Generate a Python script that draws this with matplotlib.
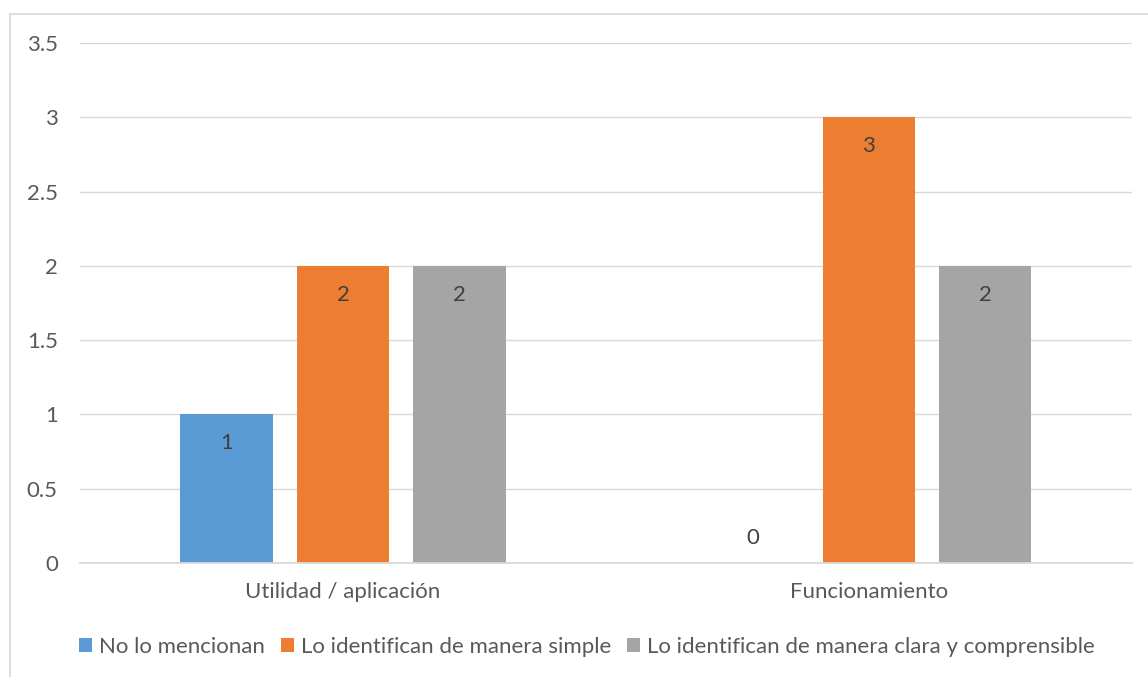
import matplotlib
matplotlib.use("Agg")
import matplotlib.pyplot as plt
from matplotlib.lines import Line2D
import numpy as np

categories = ["Utilidad / aplicación", "Funcionamiento"]
series_names = [
    "No lo mencionan",
    "Lo identifican de manera simple",
    "Lo identifican de manera clara y comprensible",
]
values = [
    [1, 0],
    [2, 3],
    [2, 2],
]
colors = ["#5B9BD5", "#ED7D31", "#A5A5A5"]
yticks = [0, 0.5, 1, 1.5, 2, 2.5, 3, 3.5]

text_color = "#595959"
grid_color = "#D9D9D9"
fs = 16
plt.rcParams["font.family"] = ["Lato", "DejaVu Sans"]

fig = plt.figure(figsize=(11.48, 6.77), dpi=100)
ax = fig.add_axes([0.0697, 0.1684, 0.9163, 0.7681])

x = np.arange(len(categories))
step = 0.2215
width = 0.175
for i, (name, vals, c) in enumerate(zip(series_names, values, colors)):
    xs = x + (i - 1) * step
    ax.bar(xs, vals, width=width, color=c, label=name, zorder=3)
    for xi, v in zip(xs, vals):
        off = -29 if v > 0 else 25
        ax.annotate(f"{v:g}", (xi, v), xytext=(0, off), textcoords="offset pixels",
                    ha="center", va="center", fontsize=fs, color="#404040", zorder=4)

ax.set_xlim(-0.5, 1.5)
ax.set_ylim(0, 3.5)
ax.set_yticks(yticks)
ax.set_yticklabels([f"{t:g}" for t in yticks])
ax.set_xticks(x)
ax.set_xticklabels(categories)
ax.tick_params(axis="y", length=0, pad=16, labelsize=fs, labelcolor=text_color)
ax.tick_params(axis="x", length=0, pad=14, labelsize=fs, labelcolor=text_color)
ax.grid(axis="y", color=grid_color, linewidth=1.0, zorder=0)
for s in ["top", "right", "left"]:
    ax.spines[s].set_visible(False)
ax.spines["bottom"].set_color(grid_color)
ax.spines["bottom"].set_linewidth(1.3)
ax.spines["bottom"].set_zorder(3)

fig.legend(loc="center", bbox_to_anchor=(0.511, 1 - 647 / 677), ncol=3,
           frameon=False, fontsize=fs, handlelength=0.6, handleheight=0.6,
           handletextpad=0.3, columnspacing=0.72, labelcolor=text_color)

# chart border
fig.add_artist(Line2D([9.5 / 1148, 9.5 / 1148], [0, 1 - 13.5 / 677], transform=fig.transFigure,
                      color=grid_color, linewidth=1.3))
fig.add_artist(Line2D([9.5 / 1148, 1], [1 - 13.5 / 677, 1 - 13.5 / 677], transform=fig.transFigure,
                      color=grid_color, linewidth=1.3))

fig.savefig("out.png", dpi=100)
